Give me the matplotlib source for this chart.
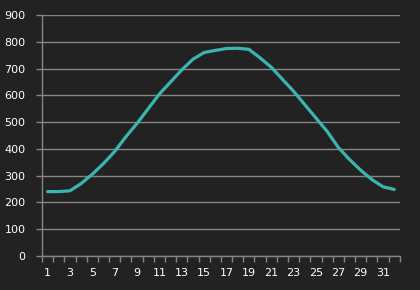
import numpy as np
import matplotlib
matplotlib.use('Agg')
import matplotlib.pyplot as plt

# Dados
dias = list(range(1, 33))
valores = [240, 240, 243, 270, 305, 345, 390, 445, 495, 550, 605, 650, 695, 735, 760, 768,
           775, 776, 772, 740, 705, 660, 615, 565, 515, 465, 405, 360, 320, 285, 258, 248]
rotulos_x = [str(d) for d in dias if d % 2 == 1]
ticks_y = list(range(0, 1000, 100))

fundo = '#222222'
cinza = '#858585'

fig = plt.figure(figsize=(4.2, 2.9), dpi=100, facecolor=fundo)
ax = fig.add_axes([0.1, 0.118, 0.852, 0.83], facecolor=fundo)

ax.plot(dias, valores, color='#3bb5b0', linewidth=2.3, solid_capstyle='round')

ax.set_xlim(0.5, 32.5)
ax.set_ylim(0, 900)

# Linhas de grade horizontais
ax.set_yticks(ticks_y)
ax.set_yticklabels([str(v) for v in ticks_y])
ax.yaxis.grid(True, color=cinza, linewidth=1)
ax.set_axisbelow(True)

# Marcas nas fronteiras das categorias, rótulos nos dias ímpares
ax.set_xticks(np.arange(0.5, 33, 1))
ax.set_xticklabels([])
ax.set_xticks([d for d in dias if d % 2 == 1], minor=True)
ax.set_xticklabels(rotulos_x, minor=True)

ax.tick_params(axis='x', which='major', length=4, color=cinza, width=1)
ax.tick_params(axis='x', which='minor', length=0, pad=9, labelcolor='white', labelsize=8)
ax.tick_params(axis='y', length=4, color=cinza, width=1, pad=8, labelcolor='white', labelsize=8)

for lado in ['top', 'right']:
    ax.spines[lado].set_visible(False)
for lado in ['left', 'bottom']:
    ax.spines[lado].set_color(cinza)
    ax.spines[lado].set_linewidth(1)

plt.savefig('out.png', dpi=100, facecolor=fundo)
